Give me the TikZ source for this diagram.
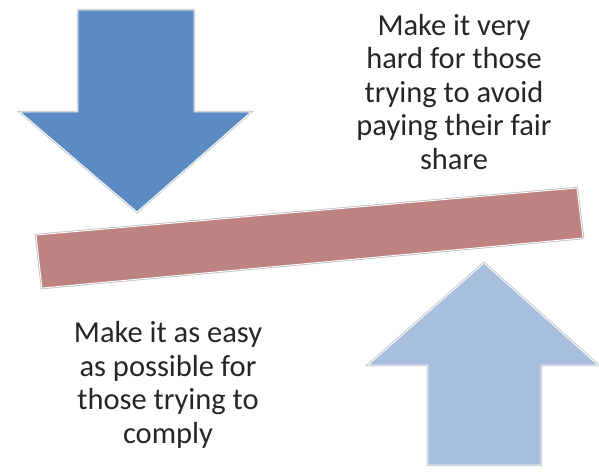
\documentclass[tikz,border=0pt]{standalone}
\usepackage{fontspec}
\setmainfont{Carlito}
\definecolor{darkblue}{HTML}{5B8BC2}
\definecolor{lightblue}{HTML}{A7BEDD}
\definecolor{barred}{HTML}{BD8381}
\definecolor{edgegray}{HTML}{BDBDBD}
\begin{document}
\begin{tikzpicture}[x=1pt,y=-1pt,
  shapeedge/.style={draw=edgegray, line width=2.4pt, line join=miter},
  shapefill/.style={draw=white, line width=0.9pt, fill=#1, line join=miter},
  label/.style={font=\fontsize{30.5}{33.5}\selectfont, align=center, text=black!85, inner sep=0pt}]
\useasboundingbox (0,0) rectangle (599,472);
% down arrow
\def\downarrow{(78,10) -- (194,10) -- (194,112) -- (251,112) -- (137,212) -- (20,112) -- (78,112) -- cycle}
\path[shapeedge] \downarrow;
\path[shapefill=darkblue] \downarrow;
% bar
\def\barpath{(36,235) -- (577,188) -- (583,238) -- (42,288) -- cycle}
\path[shapeedge] \barpath;
\path[shapefill=barred] \barpath;
% up arrow
\def\uparrowpath{(428,465) -- (541,465) -- (541,365) -- (598,365) -- (484,263) -- (368,365) -- (428,365) -- cycle}
\path[shapeedge] \uparrowpath;
\path[shapefill=lightblue] \uparrowpath;
\node[label] (hard) at (454,92) {Make it very\\hard for those\\trying to avoid\\paying their fair\\share};
\node[label] (easy) at (168,385) {Make it as easy\\as possible for\\those trying to\\comply};
\end{tikzpicture}
\end{document}
